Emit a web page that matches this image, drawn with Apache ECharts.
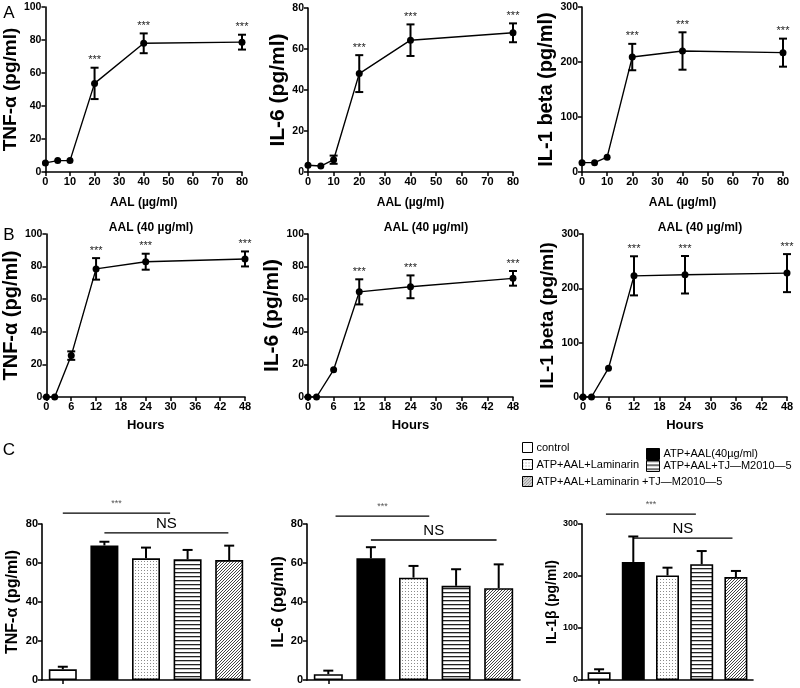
<!DOCTYPE html>
<html>
<head>
<meta charset="utf-8">
<script src="https://cdn.jsdelivr.net/npm/echarts@6/dist/echarts.min.js"></script>
<style>
  html, body { margin: 0; padding: 0; background: #fff; }
  #chart { width: 800px; height: 688px; }
</style>
</head>
<body>
<div id="chart"></div>
<script>
const FONT = '"Liberation Sans", Arial, sans-serif';

// row A: AAL dose (µg/ml)
const doses = [0, 5, 10, 20, 40, 80];
const tnfDose = [5.5, 6.9, 6.9, 53.7, 78, 78.7];
const tnfDoseSd = [0, 0, 0, 9.5, 6, 4.5];
const il6Dose = [3.3, 2.9, 6, 48, 64.3, 67.9];
const il6DoseSd = [0, 0, 2, 9, 7.7, 4.6];
const il1Dose = [17, 17, 27, 209, 220, 217];
const il1DoseSd = [0, 0, 0, 24, 34, 25.5];
const doseStars = [0, 0, 0, 1, 1, 1];

// row B: hours, AAL 40 µg/ml
const hours = [0, 2, 6, 12, 24, 48];
const tnfTime = [0, 0, 25.4, 78.6, 83, 84.7];
const tnfTimeSd = [0, 0, 2.6, 6.6, 4.9, 4.6];
const il6Time = [0, 0, 16.7, 64.5, 67.6, 72.8];
const il6TimeSd = [0, 0, 0, 7.7, 7, 4.5];
const il1Time = [0, 0, 53, 223, 225, 228];
const il1TimeSd = [0, 0, 0, 36, 34.5, 35];
const timeStars = [0, 0, 0, 1, 1, 1];

// row C: treatment groups
const groups = ['control', 'ATP+AAL(40µg/ml)', 'ATP+AAL+Laminarin', 'ATP+AAL+TJ—M2010—5', 'ATP+AAL+Laminarin +TJ—M2010—5'];
const tnfBar = [5.5, 69, 62.4, 61.9, 61.5];
const tnfBarTop = [6.8, 70.9, 67.9, 66.7, 68.9];
const il6Bar = [3.0, 62.4, 52.5, 48.3, 47.1];
const il6BarTop = [4.8, 68.1, 58.5, 56.8, 59.3];
const il1Bar = [14.8, 227, 201, 222.6, 198];
const il1BarTop = [20.6, 276, 216, 248, 209.7];

// significance brackets: [y, from group, to group]
const bracketLabels = ['***', 'NS'];
const tnfBrackets = [[85.6, 0, 2.58], [75.4, 1, 3.98]];
const il6Brackets = [[84, 0.17, 2.37], [71.8, 1, 3.95]];
const il1Brackets = [[319, 0.2, 2.83], [273, 1, 3.9]];

function makePattern(kind) {
  const c = document.createElement('canvas');
  const ctx = c.getContext('2d');
  if (kind === 'dots') {
    c.width = 3; c.height = 3;
    ctx.fillStyle = '#fff'; ctx.fillRect(0, 0, 3, 3);
    ctx.fillStyle = '#8a8a8a'; ctx.fillRect(0, 0, 1, 1);
  } else if (kind === 'hlines') {
    c.width = 4; c.height = 4;
    ctx.fillStyle = '#fff'; ctx.fillRect(0, 0, 4, 4);
    ctx.fillStyle = '#222'; ctx.fillRect(0, 0, 4, 1.3);
  } else {
    c.width = 3; c.height = 3;
    ctx.fillStyle = '#fff'; ctx.fillRect(0, 0, 3, 3);
    ctx.strokeStyle = '#444'; ctx.lineWidth = 1;
    ctx.beginPath();
    ctx.moveTo(0, 3); ctx.lineTo(3, 0);
    ctx.moveTo(-1, 1); ctx.lineTo(1, -1);
    ctx.moveTo(2, 4); ctx.lineTo(4, 2);
    ctx.stroke();
  }
  return { image: c, repeat: 'repeat' };
}
const fills = ['#fff', '#000', makePattern('dots'), makePattern('hlines'), makePattern('hatch')];

function axisBase(fontSize) {
  return {
    axisLine: { show: true, onZero: false, lineStyle: { color: '#000', width: 1.6 } },
    axisTick: { show: true, length: 4, lineStyle: { color: '#000', width: 1.5 } },
    axisLabel: { color: '#000', fontWeight: 'bold', fontSize: fontSize, fontFamily: FONT, margin: 4 },
    splitLine: { show: false }
  };
}

function renderErr(params, api) {
  const x = api.value(0), y = api.value(1), sd = api.value(2), star = api.value(3);
  const hi = api.coord([x, y + sd]);
  const lo = api.coord([x, y - sd]);
  const s = { stroke: '#000', lineWidth: 2 };
  const kids = [];
  if (sd > 0) {
    kids.push({ type: 'line', shape: { x1: hi[0], y1: hi[1], x2: lo[0], y2: lo[1] }, style: s });
    kids.push({ type: 'line', shape: { x1: hi[0] - 4, y1: hi[1], x2: hi[0] + 4, y2: hi[1] }, style: s });
    kids.push({ type: 'line', shape: { x1: lo[0] - 4, y1: lo[1], x2: lo[0] + 4, y2: lo[1] }, style: s });
  }
  if (star) {
    kids.push({ type: 'text', x: hi[0], y: hi[1] - 2,
      style: { text: '***', align: 'center', verticalAlign: 'bottom', font: '11px ' + FONT, fill: '#222' } });
  }
  return { type: 'group', children: kids };
}

function renderBarErr(params, api) {
  const i = api.value(0);
  const base = api.coord([i, api.value(1)]);
  const top = api.coord([i, api.value(2)]);
  const s = { stroke: '#000', lineWidth: 2 };
  return { type: 'group', children: [
    { type: 'line', shape: { x1: base[0], y1: base[1], x2: top[0], y2: top[1] }, style: s },
    { type: 'line', shape: { x1: top[0] - 5, y1: top[1], x2: top[0] + 5, y2: top[1] }, style: s }
  ] };
}

function renderBracket(params, api) {
  const y = api.value(0);
  const p0 = api.coord([0, y]);
  const p1 = api.coord([1, y]);
  const step = p1[0] - p0[0];
  const x0 = p0[0] + api.value(1) * step;
  const x1 = p0[0] + api.value(2) * step;
  const label = bracketLabels[params.dataIndex];
  const isNs = label === 'NS';
  return { type: 'group', children: [
    { type: 'line', shape: { x1: x0, y1: p0[1], x2: x1, y2: p0[1] }, style: { stroke: '#000', lineWidth: 1.3 } },
    { type: 'text', x: (x0 + x1) / 2, y: p0[1] - (isNs ? 2 : 5),
      style: { text: label, align: 'center', verticalAlign: 'bottom',
        font: (isNs ? '15px ' : '9px ') + FONT, fill: isNs ? '#000' : '#555' } }
  ] };
}

const linePanels = [
  { grid: { left: 42, top: 7, width: 200, height: 165 }, x: doses, y: tnfDose, sd: tnfDoseSd, stars: doseStars,
    xMax: 80, xStep: 10, yMax: 100, yStep: 20, yName: 'TNF-α (pg/ml)', nameSize: 19, nameGap: 19, xName: 'AAL (µg/ml)', xGap: 25 },
  { grid: { left: 308, top: 8, width: 205, height: 164 }, x: doses, y: il6Dose, sd: il6DoseSd, stars: doseStars,
    xMax: 80, xStep: 10, yMax: 80, yStep: 20, yName: 'IL-6 (pg/ml)', nameSize: 21, nameGap: 15, xName: 'AAL (µg/ml)', xGap: 25 },
  { grid: { left: 582, top: 7, width: 201, height: 165 }, x: doses, y: il1Dose, sd: il1DoseSd, stars: doseStars,
    xMax: 80, xStep: 10, yMax: 300, yStep: 100, yName: 'IL-1 beta (pg/ml)', nameSize: 20, nameGap: 24, xName: 'AAL (µg/ml)', xGap: 25 },
  { grid: { left: 41, top: 234, width: 204, height: 163 }, x: hours, y: tnfTime, sd: tnfTimeSd, stars: timeStars,
    xMax: 48, xStep: 6, yMax: 100, yStep: 20, yName: 'TNF-α (pg/ml)', nameSize: 20, nameGap: 18, xName: 'Hours', xGap: 22 },
  { grid: { left: 308, top: 234, width: 205, height: 163 }, x: hours, y: il6Time, sd: il6TimeSd, stars: timeStars,
    xMax: 48, xStep: 6, yMax: 100, yStep: 20, yName: 'IL-6 (pg/ml)', nameSize: 21, nameGap: 15, xName: 'Hours', xGap: 22 },
  { grid: { left: 583, top: 234, width: 204, height: 163 }, x: hours, y: il1Time, sd: il1TimeSd, stars: timeStars,
    xMax: 48, xStep: 6, yMax: 300, yStep: 100, yName: 'IL-1 beta (pg/ml)', nameSize: 19, nameGap: 20, xName: 'Hours', xGap: 22 }
];

const barPanels = [
  { grid: { left: 42, top: 524, width: 208, height: 156 }, v: tnfBar, top: tnfBarTop, br: tnfBrackets,
    yMax: 80, yStep: 20, yName: 'TNF-α (pg/ml)', nameSize: 16, nameGap: 21, barWidth: 28, tick: 11 },
  { grid: { left: 307, top: 524, width: 213, height: 156 }, v: il6Bar, top: il6BarTop, br: il6Brackets,
    yMax: 80, yStep: 20, yName: 'IL-6 (pg/ml)', nameSize: 17, nameGap: 16, barWidth: 29, tick: 11 },
  { grid: { left: 582, top: 524, width: 171, height: 156 }, v: il1Bar, top: il1BarTop, br: il1Brackets,
    yMax: 300, yStep: 100, yName: 'IL-1β (pg/ml)', nameSize: 14, nameGap: 20, barWidth: 23, tick: 9 }
];

const grids = [], xAxes = [], yAxes = [], series = [];

linePanels.forEach(function (p, k) {
  grids.push(p.grid);
  xAxes.push(Object.assign(axisBase(11), {
    type: 'value', gridIndex: k, min: 0, max: p.xMax, interval: p.xStep,
    name: p.xName, nameLocation: 'middle', nameGap: p.xGap,
    nameTextStyle: { fontWeight: 'bold', fontSize: p.xName === 'Hours' ? 13 : 12, fontFamily: FONT, color: '#000' }
  }));
  yAxes.push(Object.assign(axisBase(10.5), {
    type: 'value', gridIndex: k, min: 0, max: p.yMax, interval: p.yStep,
    name: p.yName, nameLocation: 'middle', nameGap: p.nameGap,
    nameTextStyle: { fontWeight: 'bold', fontSize: p.nameSize, fontFamily: FONT, color: '#000' }
  }));
  series.push({
    type: 'line', xAxisIndex: k, yAxisIndex: k,
    data: p.x.map(function (xv, i) { return [xv, p.y[i]]; }),
    symbol: 'circle', symbolSize: 7, itemStyle: { color: '#000' },
    lineStyle: { color: '#000', width: 1.4 }, silent: true, z: 3
  });
  series.push({
    type: 'custom', xAxisIndex: k, yAxisIndex: k, renderItem: renderErr,
    encode: { x: 0, y: 1 }, clip: false, silent: true, z: 4,
    data: p.x.map(function (xv, i) { return [xv, p.y[i], p.sd[i], p.stars[i]]; })
  });
});

barPanels.forEach(function (p, j) {
  const k = linePanels.length + j;
  grids.push(p.grid);
  xAxes.push(Object.assign(axisBase(p.tick), {
    type: 'category', gridIndex: k, data: groups,
    axisLabel: { show: false },
    axisTick: { show: true, alignWithLabel: true, length: 4, lineStyle: { color: '#000', width: 1.5 } }
  }));
  yAxes.push(Object.assign(axisBase(p.tick), {
    type: 'value', gridIndex: k, min: 0, max: p.yMax, interval: p.yStep,
    name: p.yName, nameLocation: 'middle', nameGap: p.nameGap,
    nameTextStyle: { fontWeight: 'bold', fontSize: p.nameSize, fontFamily: FONT, color: '#000' }
  }));
  groups.forEach(function (g, i) {
    series.push({
      type: 'bar', name: g, xAxisIndex: k, yAxisIndex: k,
      data: p.v.map(function (v, m) { return m === i ? v : '-'; }),
      barWidth: p.barWidth, barGap: '-100%',
      itemStyle: { color: fills[i], borderColor: '#000', borderWidth: 1.6 },
      silent: true, z: 2
    });
  });
  series.push({
    type: 'custom', xAxisIndex: k, yAxisIndex: k, renderItem: renderBarErr,
    encode: { x: 0, y: 1 }, clip: false, silent: true, z: 1,
    data: p.v.map(function (v, i) { return [i, v, p.top[i]]; })
  });
  series.push({
    type: 'custom', xAxisIndex: k, yAxisIndex: k, renderItem: renderBracket,
    encode: { x: -1, y: 0 }, clip: false, silent: true, z: 4,
    data: p.br
  });
});

const legendBase = {
  icon: 'rect', itemWidth: 10, itemHeight: 10, padding: 0, itemGap: 0,
  selectedMode: false,
  textStyle: { fontSize: 11, fontFamily: FONT, color: '#000', padding: [0, 0, 0, -1] },
  itemStyle: { borderColor: '#000', borderWidth: 1 }
};
const legendSpots = [[522, 442], [646, 448], [522, 459], [646, 460], [522, 476]];
const legends = groups.map(function (g, i) {
  const l = Object.assign({}, legendBase, { data: [g], left: legendSpots[i][0], top: legendSpots[i][1] });
  if (i === 1 || i === 3) { l.itemWidth = 13; l.itemHeight = 11; }
  return l;
});

function label(text, x, y, size, weight) {
  return { type: 'text', x: x, y: y,
    style: { text: text, align: 'center', verticalAlign: 'middle', font: weight + ' ' + size + 'px ' + FONT, fill: '#000' } };
}

const option = {
  animation: false,
  backgroundColor: '#fff',
  grid: grids,
  xAxis: xAxes,
  yAxis: yAxes,
  legend: legends,
  series: series,
  graphic: [
    label('A', 9, 13, 17, 'normal'),
    label('B', 9, 235, 17, 'normal'),
    label('C', 9, 450, 17, 'normal'),
    label('AAL (40 µg/ml)', 151, 228, 12, 'bold'),
    label('AAL (40 µg/ml)', 426, 228, 12, 'bold'),
    label('AAL (40 µg/ml)', 700, 228, 12, 'bold')
  ]
};

const chart = echarts.init(document.getElementById('chart'));
chart.setOption(option);
</script>
</body>
</html>
